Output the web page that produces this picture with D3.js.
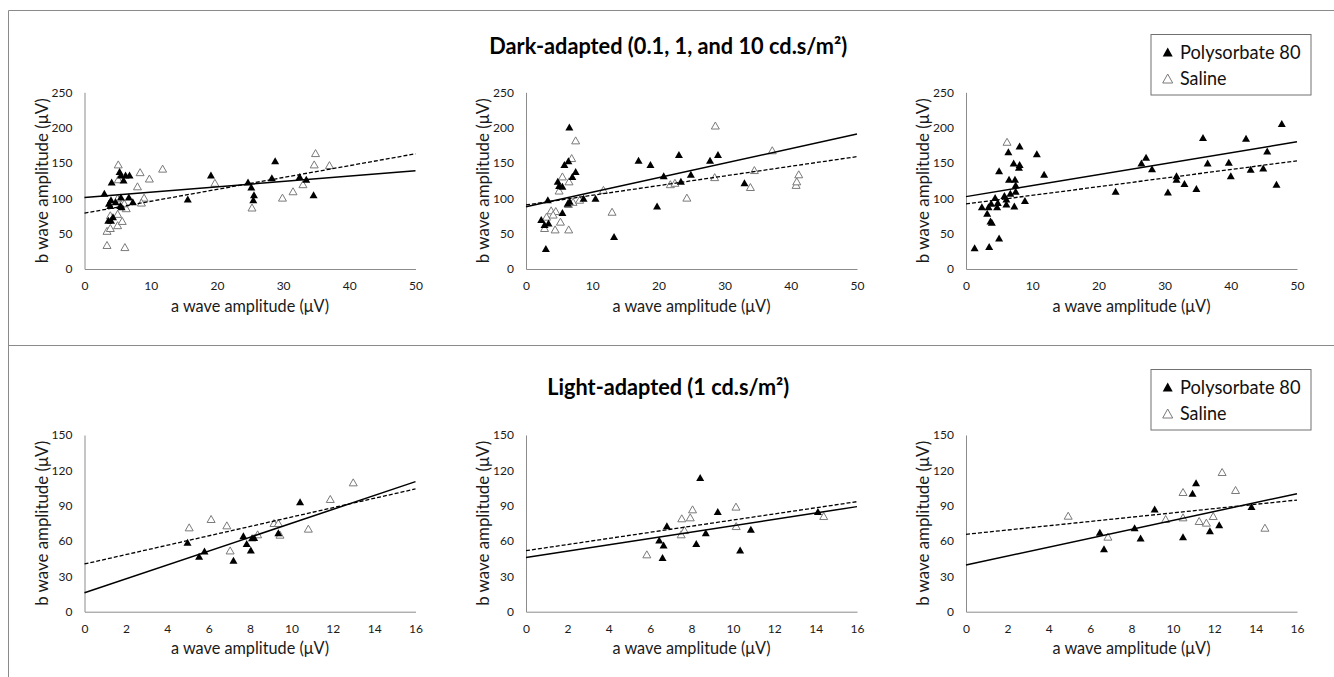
<!DOCTYPE html>
<html><head><meta charset="utf-8">
<script src="https://cdn.jsdelivr.net/npm/d3@7"></script>
<style>body{margin:0;background:#fff;overflow:hidden}</style>
</head><body>
<script>
// ---------- data ----------
const rowTitles = ["Dark-adapted (0.1, 1, and 10 cd.s/m²)", "Light-adapted (1 cd.s/m²)"];
const seriesNames = ["Polysorbate 80", "Saline"];
const xAxisLabel = "a wave amplitude (μV)";
const yAxisLabel = "b wave amplitude (μV)";
const darkXTicks = [0, 10, 20, 30, 40, 50];
const darkYTicks = [0, 50, 100, 150, 200, 250];
const lightXTicks = [0, 2, 4, 6, 8, 10, 12, 14, 16];
const lightYTicks = [0, 30, 60, 90, 120, 150];

const d1PolyX = [3.0,4.1,5.3,5.5,5.9,6.2,6.8,4.0,3.7,4.7,5.5,5.6,5.4,6.7,7.3,3.9,3.6,4.0,4.3,15.6,19.1,24.7,25.2,25.6,25.5,28.3,28.8,32.5,33.5,34.6];
const d1PolyY = [107,123,138,133,126,133,133,98,93,95,102,88,90,102,95,90,69,69,74,99,133,123,116,105,98,129,153,131,127,105];
const d1SalX = [5.1,5.1,8.4,9.8,11.8,8.0,9.0,8.6,3.4,6.1,3.4,3.9,3.9,5.0,5.7,5.0,6.3,6.0,5.0,19.7,25.3,29.9,31.5,33.0,34.9,34.7,37.0];
const d1SalY = [148,127,137,128,142,117,101,94,34,31,54,58,76,62,68,78,86,93,100,122,87,101,110,120,164,148,147];

const d2PolyX = [6.55,5.8,6.4,7.5,7.0,4.8,5.0,5.5,3.3,6.3,6.6,8.7,10.5,5.5,2.3,2.8,3.4,3.0,13.3,17.0,18.8,19.8,20.8,23.1,23.4,24.9,27.8,29.0,33.0];
const d2PolyY = [201,148,153,138,131,124,118,117,98,93,96,100,100,80,70,63,65,29,46,154,148,89,132,162,124,134,154,162,122];
const d2SalX = [7.5,6.9,5.5,6.5,5.0,6.4,7.1,3.8,4.5,3.1,4.1,5.2,2.8,4.4,6.45,8.1,11.7,13.0,21.8,22.5,24.3,28.6,28.5,33.9,34.5,37.2,40.8,40.9,41.2];
const d2SalY = [182,157,131,124,111,92,95,83,82,74,77,67,58,56,56,98,112,81,120,122,101,203,130,116,140,168,119,124,134];

const d3PolyX = [1.3,3.5,5.0,3.7,3.9,2.4,3.2,3.4,3.8,4.4,4.7,4.8,5.0,5.8,6.1,6.1,6.4,6.5,6.7,7.2,7.4,7.5,7.5,7.3,8.1,8.0,8.1,8.9,10.7,11.8,22.6,26.5,27.2,28.1,30.5,31.8,31.8,33.0,34.8,35.8,36.5,39.7,40.0,42.3,43.0,44.9,45.5,46.9,47.7];
const d3PolyY = [30,32,44,68,66,88,79,88,93,101,88,94,139,104,92,99,166,127,107,150,127,119,110,89,174,144,148,97,163,134,110,150,158,142,109,132,127,121,114,186,150,151,132,185,141,143,167,120,206];
const d3SalX = [6.2];
const d3SalY = [180];

const l1PolyX = [4.98,5.54,5.8,7.2,7.68,7.84,8.04,8.1,8.2,9.37,10.42];
const l1PolyY = [59,47,51.5,43.6,64.5,58,52.4,62.8,63,67,93.4];
const l1SalX = [5.06,6.12,6.88,7.04,8.37,9.16,9.37,9.45,10.82,11.88,12.99];
const l1SalY = [71.6,78.7,73.3,52,65.7,75.3,75.3,65.4,70.5,95.7,109.8];

const l2PolyX = [6.44,6.65,6.6,6.81,8.42,8.23,8.69,9.27,10.35,10.87,14.11];
const l2PolyY = [60.9,56.6,46.1,73,114,58,67,85,52.4,70,85];
const l2SalX = [5.84,7.5,7.66,7.53,7.94,8.05,10.15,10.16,14.39];
const l2SalY = [48.7,65.7,69.3,79.3,80.1,86.9,89.2,72.7,81.2];

const l3PolyX = [6.47,6.67,8.15,8.44,9.12,10.49,10.95,11.12,11.79,12.24,13.8];
const l3PolyY = [67.4,53.5,71.3,62.6,87.2,63.7,100.5,109.5,68.8,73.9,89.2];
const l3SalX = [4.94,6.86,9.65,10.49,10.49,11.27,11.62,11.95,12.38,13.03,14.45];
const l3SalY = [81.5,63.7,78.7,101.6,80.1,77,75.6,81.2,118.6,103.3,71.3];

// trendline values at x = 0 and at x = axis max, one per panel
const polyTrendStart = [101, 88, 102.4, 16.1, 46.1, 39.6];
const polyTrendEnd   = [139, 191, 180, 110.4, 89.2, 100.2];
const salTrendStart  = [79, 90.6, 92, 40.5, 51.8, 65.7];
const salTrendEnd    = [163, 159, 153, 104.2, 93.4, 94.8];

// ---------- layout ----------
const W = 1334, H = 677;
const FONT = "Lato, 'Open Sans', sans-serif";
const svg = d3.select("body").append("svg").attr("width", W).attr("height", H)
  .style("font-family", FONT);

// frame
const frameColor = "#8a8a8a";
svg.append("line").attr("x1", 8.5).attr("x2", W).attr("y1", 10.5).attr("y2", 10.5).attr("stroke", frameColor);
svg.append("line").attr("x1", 8.5).attr("x2", 8.5).attr("y1", 10.5).attr("y2", H).attr("stroke", frameColor);
svg.append("line").attr("x1", 8.5).attr("x2", W).attr("y1", 345.5).attr("y2", 345.5).attr("stroke", frameColor);

const panelLefts = [84.5, 526, 966];
const panelWidth = 331;
const rows = [
  {top: 92.3, bottom: 269, xTicks: darkXTicks, yTicks: darkYTicks, titleY: 54, titleLen: 358, legendY: 34.5},
  {top: 435, bottom: 611.7, xTicks: lightXTicks, yTicks: lightYTicks, titleY: 395, titleLen: 242, legendY: 369.5}
];
const panels = [
  {row: 0, col: 0, px: d1PolyX, py: d1PolyY, sx: d1SalX, sy: d1SalY},
  {row: 0, col: 1, px: d2PolyX, py: d2PolyY, sx: d2SalX, sy: d2SalY},
  {row: 0, col: 2, px: d3PolyX, py: d3PolyY, sx: d3SalX, sy: d3SalY},
  {row: 1, col: 0, px: l1PolyX, py: l1PolyY, sx: l1SalX, sy: l1SalY},
  {row: 1, col: 1, px: l2PolyX, py: l2PolyY, sx: l2SalX, sy: l2SalY},
  {row: 1, col: 2, px: l3PolyX, py: l3PolyY, sx: l3SalX, sy: l3SalY}
];

function tri(w, h) {
  return `M0,${-h/2}L${w/2},${h/2}L${-w/2},${h/2}Z`;
}
const markerPath = tri(8, 7);

panels.forEach((p, i) => {
  const r = rows[p.row];
  const xs = r.xTicks, ys = r.yTicks;
  const left = panelLefts[p.col];
  const x = d3.scaleLinear().domain([0, xs[xs.length - 1]]).range([left, left + panelWidth]);
  const y = d3.scaleLinear().domain([0, ys[ys.length - 1]]).range([r.bottom, r.top]);
  const g = svg.append("g");

  const ax = g.append("g").attr("transform", `translate(0,${r.bottom})`)
    .call(d3.axisBottom(x).tickValues(xs).tickSize(0).tickSizeOuter(0).tickPadding(12.5).tickFormat(d3.format("d")));
  const ay = g.append("g").attr("transform", `translate(${left},0)`)
    .call(d3.axisLeft(y).tickValues(ys).tickSize(0).tickSizeOuter(0).tickPadding(12).tickFormat(d3.format("d")));
  [ax, ay].forEach(a => {
    a.select(".domain").attr("stroke", "#8c8c8c").attr("stroke-width", 1);
    a.selectAll("text").attr("font-family", FONT).attr("font-size", 12).attr("fill", "#1a1a1a");
  });

  // axis titles
  g.append("text").attr("x", left + panelWidth / 2).attr("y", r.bottom + 42.5)
    .attr("text-anchor", "middle").attr("font-size", 16.5).attr("fill", "#1a1a1a")
    .attr("textLength", 158).attr("lengthAdjust", "spacingAndGlyphs")
    .text(xAxisLabel);
  g.append("text").attr("transform", `translate(${left - 37},${(r.top + r.bottom) / 2}) rotate(-90)`)
    .attr("text-anchor", "middle").attr("font-size", 16.5).attr("fill", "#1a1a1a")
    .attr("textLength", 165).attr("lengthAdjust", "spacingAndGlyphs")
    .text(yAxisLabel);

  // saline (open) markers
  g.append("g").selectAll("path").data(d3.range(p.sx.length)).join("path")
    .attr("d", markerPath)
    .attr("transform", k => `translate(${x(p.sx[k])},${y(p.sy[k])})`)
    .attr("fill", "#fff").attr("stroke", "#7a7a7a").attr("stroke-width", 1);
  // polysorbate (filled) markers
  g.append("g").selectAll("path").data(d3.range(p.px.length)).join("path")
    .attr("d", markerPath)
    .attr("transform", k => `translate(${x(p.px[k])},${y(p.py[k])})`)
    .attr("fill", "#000");

  // trendlines
  const xMax = xs[xs.length - 1];
  const line = d3.line().x(d => x(d[0])).y(d => y(d[1]));
  g.append("path").attr("d", line([[0, salTrendStart[i]], [xMax, salTrendEnd[i]]]))
    .attr("stroke", "#000").attr("stroke-width", 1.3).attr("stroke-dasharray", "4,2").attr("fill", "none");
  g.append("path").attr("d", line([[0, polyTrendStart[i]], [xMax, polyTrendEnd[i]]]))
    .attr("stroke", "#000").attr("stroke-width", 1.5).attr("fill", "none");
});

// row titles and legends
rows.forEach((r, ri) => {
  svg.append("text").attr("x", 668.3).attr("y", r.titleY).attr("text-anchor", "middle")
    .attr("font-size", 22).attr("font-weight", "bold").attr("fill", "#000")
    .attr("textLength", r.titleLen).attr("lengthAdjust", "spacingAndGlyphs")
    .text(rowTitles[ri]);

  const lg = svg.append("g").attr("transform", `translate(1151,${r.legendY})`);
  lg.append("rect").attr("x", 0).attr("y", 0).attr("width", 160).attr("height", 60.5)
    .attr("fill", "#fff").attr("stroke", "#707070").attr("stroke-width", 1);
  const legTri = tri(10, 9);
  lg.append("path").attr("d", legTri).attr("transform", "translate(16.7,17.5)").attr("fill", "#000");
  lg.append("path").attr("d", legTri).attr("transform", "translate(16.7,44)")
    .attr("fill", "#fff").attr("stroke", "#7a7a7a").attr("stroke-width", 1);
  lg.append("text").attr("x", 29).attr("y", 24).attr("font-size", 19.5).attr("fill", "#111")
    .attr("textLength", 120.5).attr("lengthAdjust", "spacingAndGlyphs").text(seriesNames[0]);
  lg.append("text").attr("x", 29).attr("y", 50.7).attr("font-size", 19.5).attr("fill", "#111")
    .attr("textLength", 46.5).attr("lengthAdjust", "spacingAndGlyphs").text(seriesNames[1]);
});
</script>
</body></html>
